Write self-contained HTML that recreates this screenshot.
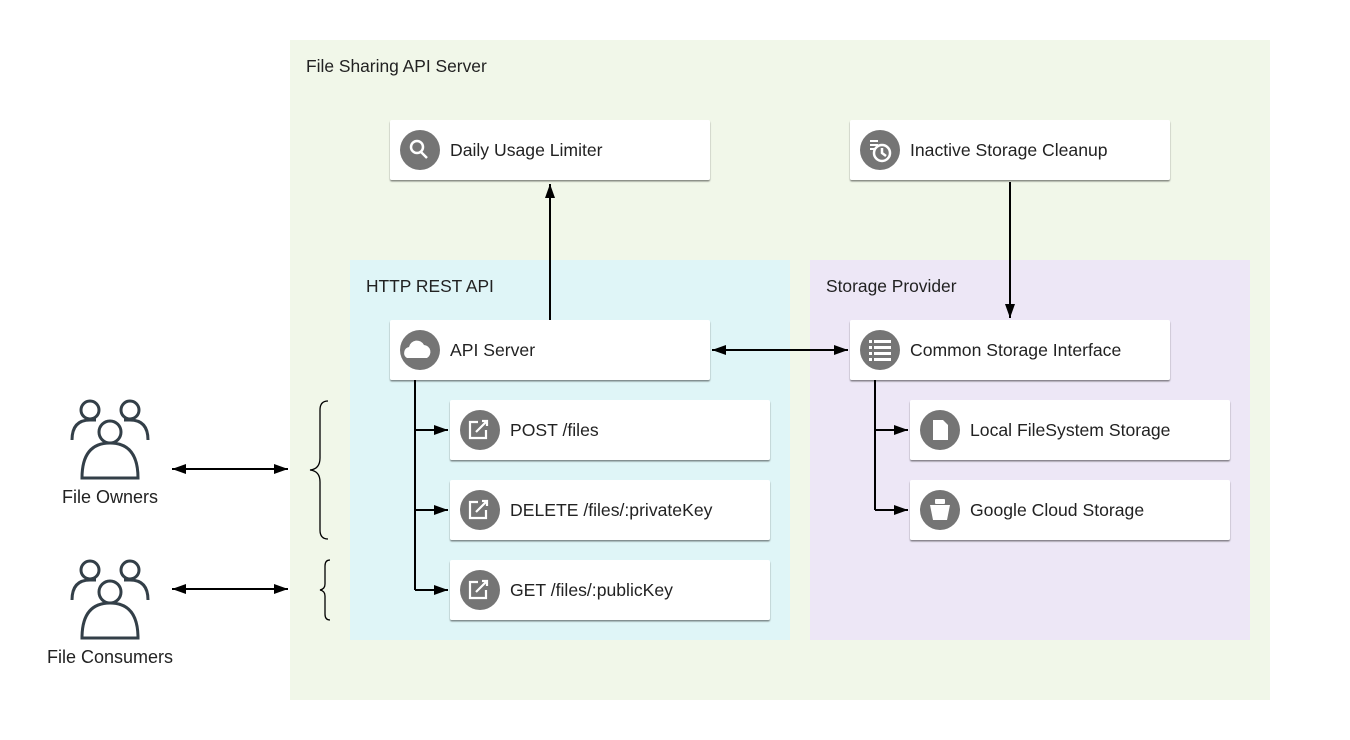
<!DOCTYPE html>
<html><head><meta charset="utf-8"><style>
html,body{margin:0;padding:0;background:#fff;}
svg{display:block;font-family:"Liberation Sans",Arial,sans-serif;}
</style></head><body>
<svg width="1350" height="740" viewBox="0 0 1350 740" xmlns="http://www.w3.org/2000/svg">
<defs>
<marker id="as" markerWidth="14" markerHeight="10" refX="14" refY="5" orient="auto-start-reverse" markerUnits="userSpaceOnUse"><path d="M0,0 L14,5 L0,10 z" fill="#000"/></marker>
<filter id="sh" x="-5%" y="-10%" width="110%" height="130%"><feDropShadow dx="0" dy="1.5" stdDeviation="0.8" flood-color="#000" flood-opacity="0.45"/></filter>
</defs>
<rect x="290" y="40" width="980" height="660" fill="#f1f7e9"/>
<text x="306" y="72" font-size="17.4" fill="#222">File Sharing API Server</text>
<rect x="350" y="260" width="440" height="380" fill="#dff5f7"/>
<text x="366" y="292" font-size="17.4" fill="#222">HTTP REST API</text>
<rect x="810" y="260" width="440" height="380" fill="#ede7f6"/>
<text x="826" y="292" font-size="17.4" fill="#222">Storage Provider</text>

<g stroke="#000" stroke-width="2" fill="none">
<line x1="550" y1="320" x2="550" y2="184" marker-end="url(#as)"/>
<line x1="1010" y1="182" x2="1010" y2="318" marker-end="url(#as)"/>
<line x1="712" y1="350" x2="848" y2="350" marker-start="url(#as)" marker-end="url(#as)"/>
<polyline points="415,380 415,590"/>
<line x1="415" y1="430" x2="448" y2="430" marker-end="url(#as)"/>
<line x1="415" y1="510" x2="448" y2="510" marker-end="url(#as)"/>
<line x1="415" y1="590" x2="448" y2="590" marker-end="url(#as)"/>
<polyline points="875,380 875,510"/>
<line x1="875" y1="430" x2="908" y2="430" marker-end="url(#as)"/>
<line x1="875" y1="510" x2="908" y2="510" marker-end="url(#as)"/>
<line x1="172" y1="469" x2="288" y2="469" marker-start="url(#as)" marker-end="url(#as)"/>
<line x1="172" y1="589" x2="288" y2="589" marker-start="url(#as)" marker-end="url(#as)"/>
</g>
<g stroke="#000" stroke-width="1.3" fill="none">
<path d="M328,401 Q320,401 320,410 L320,458 Q320,469 310,470 Q320,471 320,482 L320,530 Q320,539 328,539"/>
<path d="M330,560 Q325,560 325,566 L325,584 Q325,589 320,590 Q325,591 325,596 L325,614 Q325,620 330,620"/>
</g>

<g font-size="17.6" fill="#222">
<g filter="url(#sh)" fill="#fff">
<rect x="390" y="120" width="320" height="60" rx="2"/>
<rect x="850" y="120" width="320" height="60" rx="2"/>
<rect x="390" y="320" width="320" height="60" rx="2"/>
<rect x="850" y="320" width="320" height="60" rx="2"/>
<rect x="450" y="400" width="320" height="60" rx="2"/>
<rect x="450" y="480" width="320" height="60" rx="2"/>
<rect x="450" y="560" width="320" height="60" rx="2"/>
<rect x="910" y="400" width="320" height="60" rx="2"/>
<rect x="910" y="480" width="320" height="60" rx="2"/>
</g>
<g fill="#757575">
<circle cx="420" cy="150" r="20"/><circle cx="880" cy="150" r="20"/>
<circle cx="420" cy="350" r="20"/><circle cx="880" cy="350" r="20"/>
<circle cx="480" cy="430" r="20"/><circle cx="480" cy="510" r="20"/><circle cx="480" cy="590" r="20"/>
<circle cx="940" cy="430" r="20"/><circle cx="940" cy="510" r="20"/>
</g>
<g fill="none" stroke="#fff" stroke-width="2.5">
<circle cx="417" cy="147" r="6"/><line x1="421" y1="152" x2="427" y2="158"/>
<circle cx="882" cy="153" r="8"/><path d="M882,148 L882,153 L886,156"/>
</g>
<g fill="#fff">
<rect x="870" y="140" width="8" height="2"/><rect x="870" y="144" width="8" height="2"/><rect x="870" y="148" width="6" height="2"/>
<path d="M407,358 a6,6 0 0 1 2,-11 a8,8 0 0 1 15,-2 a7,7 0 0 1 3,13 z"/>
<rect x="869" y="340" width="3" height="3"/><rect x="874" y="340" width="17" height="3"/>
<rect x="869" y="346" width="3" height="3"/><rect x="874" y="346" width="17" height="3"/>
<rect x="869" y="352" width="3" height="3"/><rect x="874" y="352" width="17" height="3"/>
<rect x="869" y="358" width="3" height="3"/><rect x="874" y="358" width="17" height="3"/>
<path d="M933,420 h10 l5,5 v15 h-15 z"/>
<path d="M930,505 h20 l-3,15 h-14 z"/><rect x="935" y="499" width="10" height="5" rx="1"/>
</g>
<g fill="none" stroke="#fff" stroke-width="2.2">
<path d="M478,422 h-8 v16 h16 v-8 M476,432 l11,-11 M482,421 h5 v5"/>
<path d="M478,502 h-8 v16 h16 v-8 M476,512 l11,-11 M482,501 h5 v5"/>
<path d="M478,582 h-8 v16 h16 v-8 M476,592 l11,-11 M482,581 h5 v5"/>
</g>
<text x="450" y="156">Daily Usage Limiter</text>
<text x="910" y="156">Inactive Storage Cleanup</text>
<text x="450" y="356">API Server</text>
<text x="910" y="356">Common Storage Interface</text>
<text x="510" y="436">POST /files</text>
<text x="510" y="516">DELETE /files/:privateKey</text>
<text x="510" y="596">GET /files/:publicKey</text>
<text x="970" y="436">Local FileSystem Storage</text>
<text x="970" y="516">Google Cloud Storage</text>
</g>

<g fill="none" stroke="#333f48" stroke-width="3">
<g id="ppl">
<circle cx="90" cy="410" r="9"/><circle cx="130" cy="410" r="9"/>
<path d="M72,440 q0,-20 18,-20 h6 M148,440 q0,-20 -18,-20 h-6"/>
<circle cx="110" cy="432" r="11"/>
<path d="M82,478 q0,-35 28,-35 q28,0 28,35 z"/>
</g>
<use href="#ppl" y="160"/>
</g>
<text x="110" y="503" font-size="18" text-anchor="middle" fill="#222">File Owners</text>
<text x="110" y="663" font-size="18" text-anchor="middle" fill="#222">File Consumers</text>
</svg>
</body></html>
